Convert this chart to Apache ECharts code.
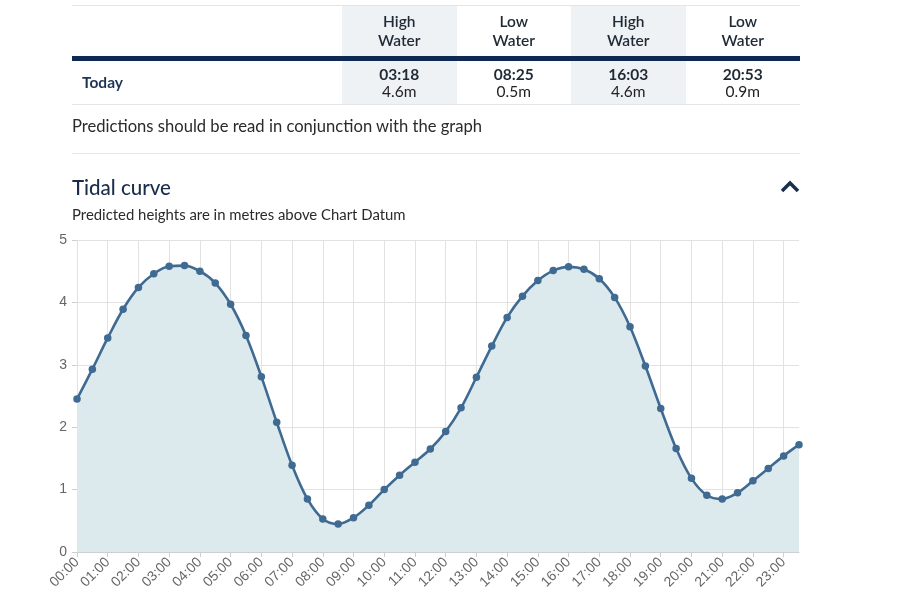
<!DOCTYPE html>
<html><head><meta charset="utf-8">
<script src="https://cdn.jsdelivr.net/npm/echarts@6/dist/echarts.min.js"></script>
<style>
html,body{margin:0;padding:0;background:#fff;width:900px;height:600px;overflow:hidden;font-family:Lato,"Open Sans",sans-serif;}
#chart{position:absolute;left:0;top:0;width:900px;height:600px;}
#top{position:absolute;left:72px;top:0;width:728px;pointer-events:none;color:#222;}
table{border-collapse:collapse;width:728px;position:absolute;left:0;top:5px;}
td{padding:0;text-align:center;font-size:15.5px;}
.hw{background:#eef2f4;}
.hdr td{height:50px;border-top:1px solid #e3e6e8;line-height:19px;color:#1f2a36;font-weight:600;}
.bar td{height:5px;background:#0e2a52;}
.row td{height:43px;border-bottom:1px solid #e3e6e8;line-height:17px;}
.row td b{color:#1f2a36;font-weight:700;}
.today{text-align:left!important;padding-left:10px!important;color:#1d3458;font-weight:700;}
.note{position:absolute;top:116px;left:0;font-size:16.6px;color:#2a2a2a;}
.sep{position:absolute;top:153px;left:0;width:728px;height:1px;background:#e6e8ea;}
.title{position:absolute;top:175px;left:0;font-size:20.5px;color:#1a2e4c;font-weight:500;}
.sub{position:absolute;top:205px;left:0;font-size:14.9px;color:#2a2a2a;}
.chev{position:absolute;top:178px;left:708px;}
</style></head>
<body>
<div id="chart"></div>
<div id="top">
<table>
<tr class="hdr"><td style="width:270px"></td><td class="hw">High<br>Water</td><td>Low<br>Water</td><td class="hw">High<br>Water</td><td>Low<br>Water</td></tr>
<tr class="bar"><td></td><td></td><td></td><td></td><td></td></tr>
<tr class="row"><td class="today">Today</td><td class="hw"><b>03:18</b><br>4.6m</td><td><b>08:25</b><br>0.5m</td><td class="hw"><b>16:03</b><br>4.6m</td><td><b>20:53</b><br>0.9m</td></tr>
</table>
<div class="note">Predictions should be read in conjunction with the graph</div>
<div class="sep"></div>
<div class="title">Tidal curve</div>
<svg class="chev" width="20" height="16" viewBox="0 0 20 16"><polyline points="2,13 10,5 18,13" fill="none" stroke="#1a2e4c" stroke-width="3.5"/></svg>
<div class="sub">Predicted heights are in metres above Chart Datum</div>
</div>
<script>
const times = ["00:00","00:30","01:00","01:30","02:00","02:30","03:00","03:30","04:00","04:30","05:00","05:30",
"06:00","06:30","07:00","07:30","08:00","08:30","09:00","09:30","10:00","10:30","11:00","11:30",
"12:00","12:30","13:00","13:30","14:00","14:30","15:00","15:30","16:00","16:30","17:00","17:30",
"18:00","18:30","19:00","19:30","20:00","20:30","21:00","21:30","22:00","22:30","23:00","23:30"];
const heights = [2.45,2.93,3.43,3.89,4.24,4.46,4.58,4.59,4.50,4.31,3.97,3.47,
2.81,2.08,1.39,0.85,0.53,0.45,0.55,0.75,1.00,1.23,1.44,1.65,
1.93,2.31,2.80,3.30,3.76,4.10,4.35,4.51,4.57,4.53,4.38,4.08,
3.61,2.98,2.30,1.66,1.18,0.91,0.85,0.95,1.14,1.34,1.54,1.72];
const yTicks = [0,1,2,3,4,5];
const chart = echarts.init(document.getElementById('chart'));
chart.setOption({
  animation:false,
  grid:{left:77,right:101,top:240,bottom:48},
  xAxis:{type:'category',data:times,boundaryGap:false,
    axisLine:{lineStyle:{color:'#cfcfcf'}},
    axisTick:{interval:1,length:5,lineStyle:{color:'#cfcfcf'}},
    axisLabel:{interval:1,rotate:45,color:'#666',fontSize:14,fontFamily:'Liberation Sans, Arial',margin:8},
    splitLine:{show:true,interval:1,lineStyle:{color:'#e2e2e2'}}},
  yAxis:{type:'value',min:yTicks[0],max:yTicks[yTicks.length-1],interval:1,
    axisLine:{show:false},
    axisTick:{show:true,length:5,lineStyle:{color:'#cfcfcf'}},
    axisLabel:{color:'#666',fontSize:14,fontFamily:'Liberation Sans, Arial',margin:10},
    splitLine:{lineStyle:{color:'#e2e2e2'}}},
  series:[{type:'line',data:heights,smooth:0.35,symbol:'circle',symbolSize:7.5,
    lineStyle:{color:'#3f6a92',width:2.6},itemStyle:{color:'#3f6a92'},
    areaStyle:{color:'#dce9ed',opacity:1}}]
});
</script>
</body></html>
